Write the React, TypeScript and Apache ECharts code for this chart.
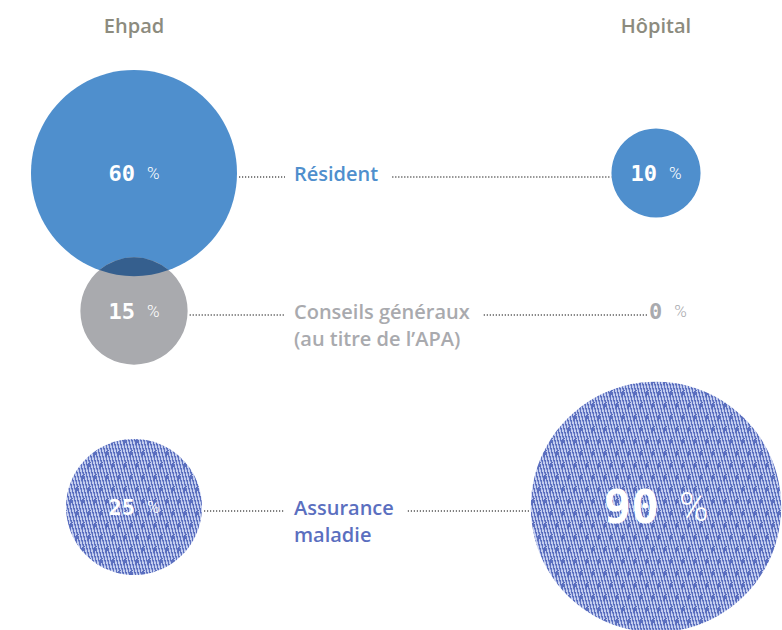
import React, { useEffect, useRef } from "react";
import * as echarts from "echarts";

// ---- data ----
const columns = ["Ehpad", "Hôpital"];
const categories = ["Résident", "Conseils généraux\n(au titre de l’APA)", "Assurance\nmaladie"];
const ehpadShares = [60, 15, 25];
const hopitalShares = [10, 0, 90];

// ---- layout / style ----
const W = 782;
const H = 630;
const COL_LEFT_PX = 134;
const COL_RIGHT_PX = 656;
const ROW_Y = [173, 311, 507];
const HEADER_Y = 25;
const LABEL_X = 294;
const LINE_H = 27;
const FONT = "'Open Sans', 'Noto Sans', sans-serif";
const ROW_COLORS = ["#4f8fcd", "#a9aaae", "#5b6fbf"];
const OVERLAP = "#355f8e";
const HEADER_COLOR = "#8c8b7e";
const DOT_COLOR = "#555555";

const sharesByCol = [ehpadShares, hopitalShares];
const shareOf = (c: number, r: number) => sharesByCol[c][r];
const radius = (v: number) => (v > 0 ? 4.25 + 12.75 * Math.sqrt(v) : 0);
const maxShare = Math.max(...ehpadShares, ...hopitalShares);

let measureCtx: CanvasRenderingContext2D | null = null;
function textWidth(text: string, font: string) {
  if (!measureCtx) measureCtx = document.createElement("canvas").getContext("2d");
  if (!measureCtx) return text.length * 9;
  measureCtx.font = font;
  return Math.max(...text.split("\n").map((l) => measureCtx!.measureText(l).width));
}

function makeHatchCanvas(base: string) {
  const tw = 3;
  const cv = document.createElement("canvas");
  cv.width = tw * 4;
  cv.height = 24;
  const ctx = cv.getContext("2d")!;
  ctx.fillStyle = base;
  ctx.fillRect(0, 0, cv.width, cv.height);
  for (let y = 0; y < cv.height; y++) {
    for (let x = 0; x < cv.width; x++) {
      const t = (x + (cv.height - y) / 4) % tw;
      if (t < 1.3) {
        ctx.fillStyle = "rgba(200,209,240,0.95)";
        ctx.fillRect(x, y, 1, 1);
      } else if (t < 1.7) {
        ctx.fillStyle = "rgba(150,164,220,0.9)";
        ctx.fillRect(x, y, 1, 1);
      }
    }
  }
  // occasional darker dashes
  ctx.fillStyle = base;
  for (let k = 0; k < 2; k++) {
    const x0 = k * 6 + 1;
    const y0 = k * 12 + 3;
    for (let y = 0; y < 6; y++) {
      const x = Math.round(x0 + (6 - y) / 4) % cv.width;
      ctx.fillRect(x, (y0 + y) % cv.height, 2, 1);
    }
  }
  return cv;
}

export default function App() {
  const ref = useRef<HTMLDivElement>(null);
  useEffect(() => {
    document.body.style.margin = "0";
    const chart = echarts.init(ref.current!, null, { renderer: "svg" });

    const hatchCanvas = makeHatchCanvas(ROW_COLORS[2]);

    const bubbleData: any[] = [];
    columns.forEach((_, c) => {
      categories.forEach((_, r) => {
        const v = shareOf(c, r);
        const isZero = v === 0;
        const rad = radius(v);
        const fill =
          r === 2 && rad > 0
            ? { image: hatchCanvas, repeat: "repeat", scaleX: 1 / rad, scaleY: 1 / rad }
            : ROW_COLORS[r];
        bubbleData.push({
          value: [c, ROW_Y[r], v, r],
          itemStyle: isZero ? { color: "rgba(0,0,0,0)", opacity: 1 } : { color: fill, opacity: 1 },
          label: isZero ? { offset: [12, 0] } : undefined,
        });
      });
    });

    const pairData: number[][] = [];
    columns.forEach((_, c) => {
      for (let r = 0; r < categories.length - 1; r++) pairData.push([c, r, r + 1]);
    });

    const labelFont = `600 20px ${FONT}`;

    const option: any = {
      animation: false,
      backgroundColor: "#ffffff",
      grid: { left: COL_LEFT_PX, right: W - COL_RIGHT_PX, top: 0, bottom: 0 },
      xAxis: { type: "value", min: 0, max: 1, show: false },
      yAxis: { type: "value", min: 0, max: H, inverse: true, show: false },
      series: [
        {
          type: "scatter",
          z: 2,
          data: bubbleData,
          symbol: "circle",
          symbolSize: (val: number[]) => Math.max(1, 2 * radius(val[2])),
          itemStyle: { opacity: 1 },
          emphasis: { disabled: true },
          label: {
            show: true,
            position: "inside",
            formatter: (p: any) => {
              const v = p.value[2];
              const big = v === maxShare;
              const zero = v === 0;
              const nk = zero ? "z" : big ? "N" : "n";
              const pk = zero ? "zp" : big ? "P" : "p";
              return `{${nk}|${v}}{${pk}|%}`;
            },
            rich: {
              n: { fontFamily: "'DejaVu Sans Mono', monospace", fontWeight: "bold", fontSize: 22, color: "#ffffff" },
              p: { fontFamily: "Roboto, sans-serif", fontWeight: 300, fontSize: 17, color: "#ffffff", padding: [0, 0, 0, 12] },
              N: { fontFamily: "'DejaVu Sans Mono', monospace", fontWeight: "bold", fontSize: 46, color: "#ffffff" },
              P: { fontFamily: "Roboto, sans-serif", fontWeight: 300, fontSize: 40, color: "#ffffff", padding: [0, 0, 0, 20] },
              z: { fontFamily: "'DejaVu Sans Mono', monospace", fontWeight: "bold", fontSize: 22, color: "#a9aaae" },
              zp: { fontFamily: "Roboto, sans-serif", fontWeight: 300, fontSize: 17, color: "#a9aaae", padding: [0, 0, 0, 12] },
            },
          },
        },
        {
          type: "custom",
          z: 3,
          coordinateSystem: "cartesian2d",
          silent: true,
          data: pairData,
          renderItem: (params: any, api: any) => {
            const col = api.value(0);
            const ra = api.value(1);
            const rb = api.value(2);
            const r1 = radius(shareOf(col, ra));
            const r2 = radius(shareOf(col, rb));
            const p1 = api.coord([col, ROW_Y[ra]]);
            const p2 = api.coord([col, ROW_Y[rb]]);
            const dx = p2[0] - p1[0];
            const dy = p2[1] - p1[1];
            const d = Math.hypot(dx, dy);
            if (!r1 || !r2 || d >= r1 + r2 || d <= Math.abs(r1 - r2)) return null;
            const a = (r1 * r1 - r2 * r2 + d * d) / (2 * d);
            const h = Math.sqrt(r1 * r1 - a * a);
            const ux = dx / d;
            const uy = dy / d;
            const mx = p1[0] + a * ux;
            const my = p1[1] + a * uy;
            const A = [mx - h * uy, my + h * ux];
            const B = [mx + h * uy, my - h * ux];
            const pathData = `M ${A[0]} ${A[1]} A ${r1} ${r1} 0 0 0 ${B[0]} ${B[1]} A ${r2} ${r2} 0 0 0 ${A[0]} ${A[1]} Z`;
            return { type: "path", shape: { pathData }, style: { fill: OVERLAP } };
          },
        },
        {
          type: "custom",
          z: 4,
          coordinateSystem: "cartesian2d",
          silent: true,
          data: categories.map((_, r) => [r]),
          renderItem: (params: any, api: any) => {
            const r = api.value(0);
            const pl = api.coord([0, ROW_Y[r]]);
            const pr = api.coord([1, ROW_Y[r]]);
            const y = pl[1];
            const vl = shareOf(0, r);
            const vr = shareOf(1, r);
            const leftStart = pl[0] + radius(vl) + 2;
            const leftEnd = LABEL_X - 9;
            const tw = textWidth(categories[r], labelFont);
            const rightStart = LABEL_X + tw + 14;
            const rightEnd = vr > 0 ? pr[0] - radius(vr) : pr[0] - 9;
            const dotStyle = { stroke: DOT_COLOR, lineWidth: 1.3, lineDash: [1.2, 1.8] };
            return {
              type: "group",
              children: [
                { type: "line", shape: { x1: leftStart, y1: y + 4, x2: leftEnd, y2: y + 4 }, style: dotStyle },
                { type: "line", shape: { x1: rightStart, y1: y + 4, x2: rightEnd, y2: y + 4 }, style: dotStyle },
                {
                  type: "text",
                  x: LABEL_X,
                  y: y - LINE_H / 2,
                  style: {
                    text: categories[r],
                    fill: ROW_COLORS[r],
                    font: labelFont,
                    lineHeight: LINE_H,
                    textAlign: "left",
                    textVerticalAlign: "top",
                  },
                },
              ],
            };
          },
        },
        {
          type: "custom",
          z: 4,
          coordinateSystem: "cartesian2d",
          silent: true,
          data: columns.map((_, c) => [c]),
          renderItem: (params: any, api: any) => {
            const c = api.value(0);
            const p = api.coord([c, HEADER_Y]);
            return {
              type: "text",
              x: p[0],
              y: p[1],
              style: {
                text: columns[c],
                fill: HEADER_COLOR,
                font: `600 20px ${FONT}`,
                textAlign: "center",
                textVerticalAlign: "middle",
              },
            };
          },
        },
      ],
    };

    chart.setOption(option);
    return () => chart.dispose();
  }, []);
  return <div ref={ref} style={{ width: W, height: H }} />;
}
